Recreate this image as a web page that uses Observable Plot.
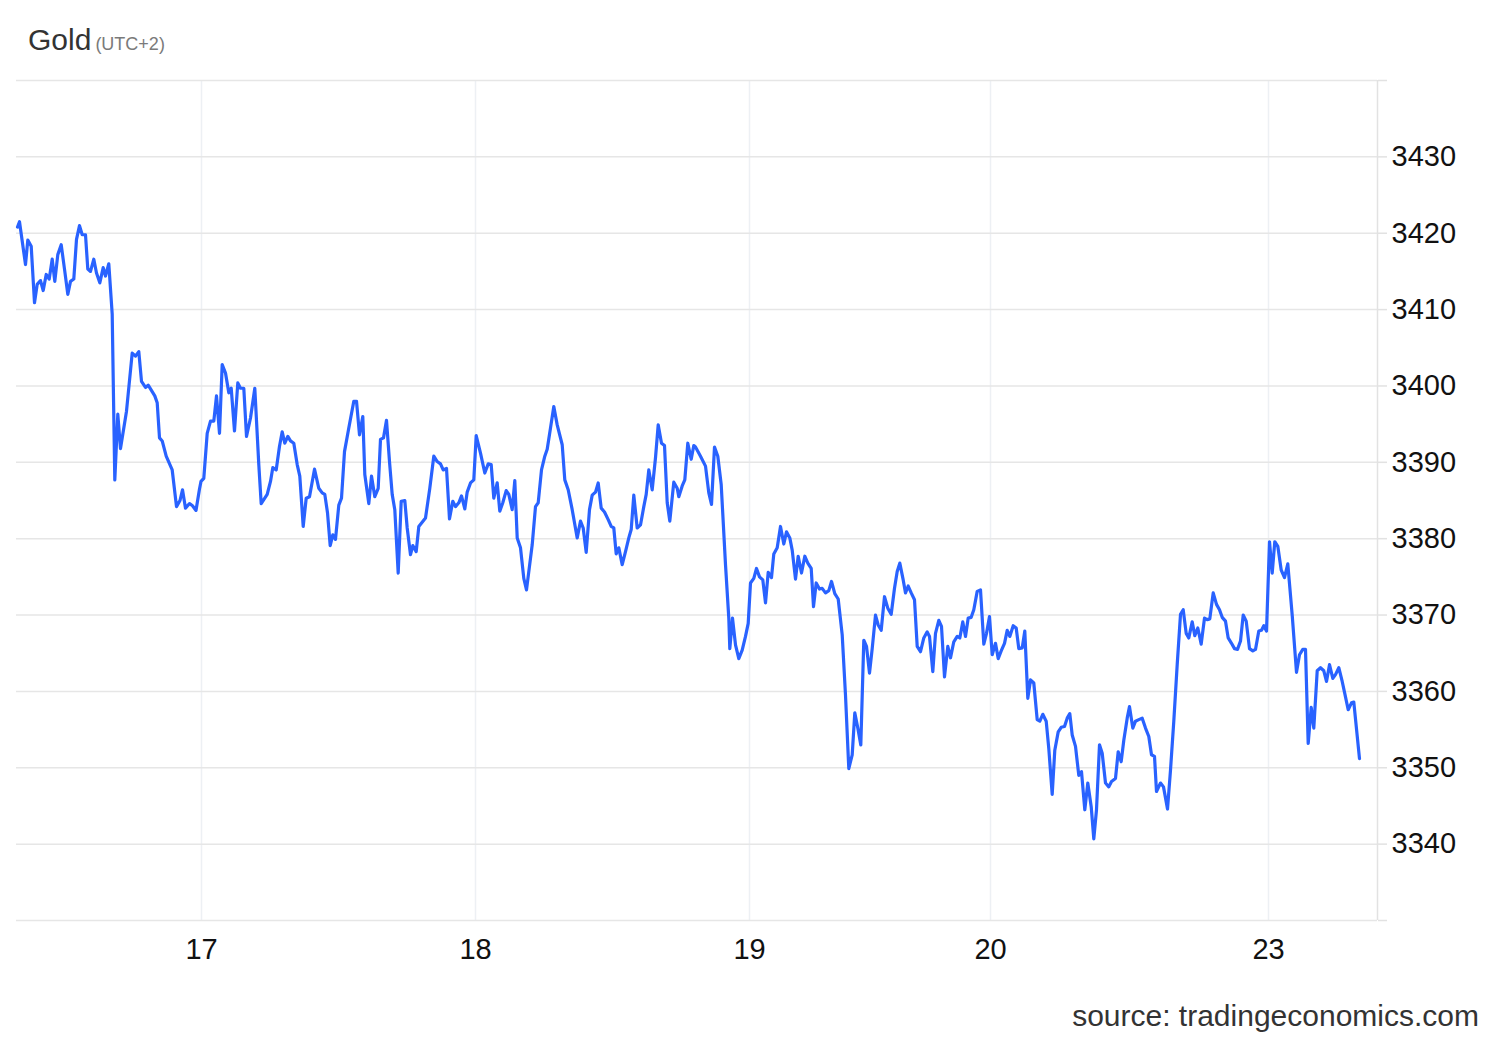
<!DOCTYPE html>
<html>
<head>
<meta charset="utf-8">
<script src="https://cdn.jsdelivr.net/npm/d3@7"></script>
<script src="https://cdn.jsdelivr.net/npm/@observablehq/plot@0.6"></script>
<style>
  html, body { margin: 0; padding: 0; background: #fff; }
  body { width: 1500px; height: 1040px; position: relative; overflow: hidden;
         font-family: "Liberation Sans", Arial, Helvetica, sans-serif; }
  #title { position: absolute; left: 28px; top: 25px; font-size: 30px; line-height: 30px; color: #333; white-space: nowrap; }
  #title small { font-size: 18px; color: #7a7a7a; margin-left: 4px; }
  #chart { position: absolute; left: 0; top: 70px; }
  #source { position: absolute; right: 21px; top: 1001px; font-size: 30px; line-height: 30px; color: #333; white-space: nowrap; }
</style>
</head>
<body>
<div id="title">Gold<small>(UTC+2)</small></div>
<div id="chart"></div>
<div id="source">source: tradingeconomics.com</div>
<script>
// x = approximate 5-minute bar index since the start of the window; price in USD
const seg16 = [[1,3420.8],[3,3421.5],[9,3415.9],[11.3,3419.1],[14.7,3418.3],[18,3410.9],[20.7,3413.3],[24,3413.8],[26.7,3412.5],[29.7,3414.6],[32.7,3414.0],[35.7,3416.6],[38.3,3413.7],[41.3,3417.2],[44.7,3418.5],[48,3415.3],[51.3,3412.0],[54,3413.7],[57.3,3414.0],[60,3419.2],[63,3421.0],[65.7,3419.8],[69,3419.8],[71.3,3415.3],[74,3415.0],[77.3,3416.6],[80,3414.8],[83.3,3413.5],[86.7,3415.5],[89,3414.4],[92.3,3416.0],[95.7,3409.4],[98.3,3387.7],[101.3,3396.3],[104,3391.8],[110,3396.7],[115.7,3404.3],[119,3403.9],[122.3,3404.5],[125,3400.6],[129,3399.8],[131.7,3400.1],[138.3,3398.7],[140.7,3397.8],[143,3393.2],[145.7,3392.8],[149.7,3390.8],[155.7,3389.0],[160,3384.2],[163.5,3385.0],[166,3386.4],[169,3384.0],[173,3384.6],[176,3384.3],[179.5,3383.7],[183,3386.5]];
const seg17 = [[184.5,3387.5],[187.3,3387.9],[190.7,3393.8],[194,3395.4],[197.3,3395.4],[200,3398.7],[203,3393.8],[205.7,3402.8],[209,3401.7],[212.3,3399.1],[214.7,3399.7],[218,3394.1],[221.3,3400.4],[224,3399.7],[227.3,3399.7],[230,3393.4],[234,3395.8],[238.3,3399.7],[242.3,3389.7],[244.7,3384.6],[250.7,3385.8],[254,3387.5],[256.3,3389.3],[259.7,3389.0],[263,3392.1],[265.7,3394.0],[268.3,3392.5],[271.3,3393.4],[274,3392.8],[277.3,3392.5],[280.7,3389.7],[283.3,3388.2],[286.7,3381.6],[289.7,3385.3],[293,3385.5],[298,3389.1],[302.3,3386.6],[305.7,3386.0],[308.3,3385.8],[311,3383.4],[313.7,3379.1],[316.3,3380.5],[319,3379.9],[322.3,3384.4],[325,3385.3],[328,3391.4],[332.3,3394.5],[337.3,3398.0],[340,3398.0],[343,3393.6],[346.3,3396.0],[348.3,3388.4],[352.3,3384.6],[355,3388.2],[358.3,3385.5],[361.7,3386.6],[364,3393.0],[367,3393.2],[370,3395.5],[373,3390.1],[375.7,3385.8],[378.3,3383.8],[381.7,3375.5],[384.7,3384.9],[388.3,3385.0],[390.7,3381.4],[394,3377.9],[396.3,3379.1],[399.7,3378.3],[402.3,3381.6],[409,3382.7],[413.3,3386.6],[417.3,3390.8],[420.7,3390.1],[424,3389.8],[426.7,3389.0],[430,3389.2],[433,3382.6],[436.3,3384.9],[439,3384.2],[442.3,3384.7],[445,3385.6],[448.3,3383.9],[450.7,3386.1],[454,3387.3],[457.3,3387.7]];
const seg18 = [[459.7,3393.5],[464,3391.2],[468.3,3388.6],[471.7,3389.8],[474.7,3389.7],[477.3,3385.3],[480.7,3387.3],[483.3,3383.6],[486.3,3384.7],[489.7,3386.3],[492.3,3385.8],[495.7,3383.8],[498.3,3387.6],[500.7,3380.1],[504,3378.8],[507.3,3374.8],[510,3373.3],[515.7,3379.2],[519,3384.2],[521.7,3384.7],[525,3389.0],[528.3,3390.8],[530.7,3391.7],[534,3394.5],[537.3,3397.3],[540.7,3394.9],[545.7,3392.3],[548.3,3387.7],[551.7,3386.4],[555.7,3383.8],[560.7,3380.1],[564,3382.3],[566.7,3381.4],[569.7,3378.2],[573,3383.8],[575.7,3385.7],[579,3386.1],[581.7,3387.3],[584.7,3384.0],[588,3383.5],[591.7,3382.5],[594.7,3381.6],[597.3,3381.4],[599.7,3378.0],[602.3,3378.8],[605.7,3376.6],[609,3378.3],[612.3,3380.1],[614.7,3381.2],[617.3,3385.7],[620.7,3381.4],[624,3381.8],[627.3,3384.2],[629.7,3385.8],[632.3,3389.0],[635.7,3386.4],[639,3390.6],[641.7,3394.9],[645,3392.5],[648,3392.2],[650.7,3384.7],[653.3,3382.3],[657.3,3387.4],[660.7,3386.6],[662.3,3385.5],[665.7,3386.9],[668.3,3387.7],[671.3,3392.5],[674.7,3390.4],[677.3,3392.2],[679,3392.0],[684,3390.8],[689,3389.5],[692.3,3386.0],[695,3384.5],[698,3392.0],[701.3,3390.8],[704.7,3387.1],[709,3376.6],[712.3,3369.6],[713.3,3365.6],[716,3369.6],[719,3366.1],[722.3,3364.3],[725.7,3365.4],[729,3367.2],[731.7,3368.9]];
const seg19 = [[734,3374.2],[737.3,3374.8],[740,3376.1],[743,3375.0],[746.3,3374.6],[749,3371.6],[751.7,3375.6],[755,3374.9],[757.3,3378.0],[760.7,3378.8],[764,3381.6],[767.3,3379.3],[770,3380.9],[773.3,3380.1],[775.7,3378.5],[779,3374.7],[781.7,3377.7],[785,3375.5],[788.3,3377.7],[791.3,3376.8],[794.7,3376.1],[797,3371.1],[799.7,3374.2],[803,3373.4],[805.7,3373.5],[809,3372.9],[812.3,3373.2],[815,3374.4],[818.3,3372.8],[821.7,3372.1],[825.7,3367.4],[829,3359.5],[832.3,3349.9],[835.7,3351.7],[838.3,3357.2],[841.3,3355.2],[844.3,3353.0],[847.3,3366.7],[850,3365.9],[853,3362.4],[855.7,3365.6],[859,3370.0],[861.7,3368.7],[864.7,3368.0],[868,3372.4],[871.3,3370.9],[874.7,3370.1],[878,3373.5],[880.7,3375.7],[883.3,3376.8],[886.7,3374.6],[889,3372.9],[891.7,3373.8],[894.7,3372.9],[898,3372.0],[900.7,3365.9],[904,3365.2],[907.3,3367.0],[910.7,3367.8],[913,3367.2],[916.3,3362.6],[919,3367.6],[922.3,3369.3],[925,3368.5],[928,3361.9],[931.3,3365.9],[934,3364.4],[937.3,3366.5],[940.7,3367.2],[943.3,3367.0],[946.3,3369.1],[949,3367.2],[951.7,3369.6],[954.7,3369.7],[957.3,3370.7],[960.7,3373.1],[964,3373.3],[967.3,3366.2],[970,3367.6],[973,3369.8]];
const seg20 = [[975.7,3364.8],[979,3366.3],[981.7,3364.3],[984.7,3365.3],[988,3366.3],[990.7,3368.0],[993.3,3367.2],[996.7,3368.6],[999.7,3368.3],[1002.3,3365.6],[1005.7,3365.7],[1008.3,3367.9],[1011.3,3359.1],[1014,3361.5],[1017.3,3361.1],[1020.7,3356.3],[1023.3,3356.1],[1026.3,3357.0],[1029.7,3356.1],[1032.3,3352.5],[1035.7,3346.5],[1038.3,3352.3],[1041.7,3354.7],[1044.7,3355.3],[1048,3355.4],[1050.7,3356.5],[1053.3,3357.1],[1055.7,3354.3],[1059,3352.8],[1062.3,3349.0],[1065,3349.5],[1068.3,3344.5],[1071.3,3348.0],[1074.7,3344.9],[1077.3,3340.7],[1080,3344.5],[1083,3353.0],[1085.7,3351.9],[1089,3348.0],[1092.3,3347.5],[1095,3348.2],[1099,3348.6],[1101.7,3352.1],[1104.7,3350.8],[1107.3,3353.6],[1110.7,3356.5],[1113,3358.0],[1116.3,3355.2],[1119,3356.1],[1122.3,3356.3],[1125.7,3356.5],[1129,3355.2],[1132.3,3354.1],[1135,3351.7],[1138,3351.5],[1140,3346.9],[1144,3348.0],[1147,3347.5],[1151,3344.6],[1154,3349.7],[1157.3,3356.1],[1160.7,3363.5],[1164,3370.1],[1166.7,3370.7],[1169.7,3367.6],[1172.3,3367.0],[1175.7,3369.1],[1178.3,3367.3],[1181.3,3368.3],[1184.7,3366.2],[1188,3369.6],[1190.7,3369.4],[1193.3,3369.5],[1196.7,3372.9],[1200,3371.4],[1203,3370.7],[1205.7,3369.7],[1209,3369.2],[1211.7,3367.0],[1215,3366.3],[1218,3365.6],[1221,3365.5],[1224,3366.6],[1226.7,3370.0],[1229.7,3369.2],[1233,3365.6],[1236.3,3365.3],[1239,3365.5],[1242.3,3367.9],[1245,3368.0],[1247.3,3368.6],[1250,3367.9]];
const seg23 = [[1253,3379.6],[1255.7,3375.5],[1258.3,3379.6],[1261.3,3379.0],[1264.7,3375.9],[1268,3374.9],[1271.3,3376.7],[1275.7,3370.0],[1280,3362.5],[1283,3364.8],[1286.3,3365.5],[1289,3365.5],[1291.7,3353.2],[1294.7,3357.9],[1297.3,3355.2],[1300.7,3362.7],[1304,3363.1],[1307.3,3362.7],[1310,3361.3],[1313,3363.5],[1316.3,3361.7],[1319,3362.2],[1322.3,3363.1],[1325.7,3361.3],[1328.3,3359.7],[1331.7,3357.6],[1335,3358.5],[1337.3,3358.6],[1343,3351.2]];

const xDomain = [0, 1361];
const dayTicks = [185, 459, 733, 974, 1252];
const dayLabels = ["17", "18", "19", "20", "23"];
const yGrid = [3330, 3340, 3350, 3360, 3370, 3380, 3390, 3400, 3410, 3420, 3430, 3440];
const yLabeled = [3340, 3350, 3360, 3370, 3380, 3390, 3400, 3410, 3420, 3430];

const data = [...seg16, ...seg17, ...seg18, ...seg19, ...seg20, ...seg23].map(([t, price]) => ({t, price}));
const labelOf = new Map(dayTicks.map((d, i) => [d, dayLabels[i]]));

const chart = Plot.plot({
  width: 1500,
  height: 910,
  marginLeft: 16,
  marginRight: 123,
  marginTop: 10,
  marginBottom: 60,
  style: { fontFamily: "'Liberation Sans', Arial, Helvetica, sans-serif", fontSize: "29px", color: "#111", background: "transparent" },
  x: { domain: xDomain },
  y: { domain: [3330, 3440] },
  marks: [
    Plot.gridX(dayTicks, { stroke: "#edf0f4", strokeOpacity: 1, strokeWidth: 1.5 }),
    Plot.gridY(yGrid, { stroke: "#e6e6e6", strokeOpacity: 1, strokeWidth: 1.5 }),
    Plot.ruleX([xDomain[1]], { stroke: "#e2e2e2", strokeWidth: 1.5 }),
    Plot.axisY(yGrid, { anchor: "right", tickSize: 9, tickPadding: 5, stroke: "#e2e2e2", strokeWidth: 1.5,
      tickFormat: d => yLabeled.includes(d) ? String(d) : "", fill: "#111", fontSize: 29, label: null }),
    Plot.axisX(dayTicks, { anchor: "bottom", tickSize: 0, tickPadding: 18,
      tickFormat: d => labelOf.get(d), fill: "#111", fontSize: 29, label: null }),
    Plot.line(data, { x: "t", y: "price", stroke: "#2962ff", strokeWidth: 3.2, strokeLinejoin: "round" })
  ]
});
document.getElementById("chart").appendChild(chart);
</script>
</body>
</html>
